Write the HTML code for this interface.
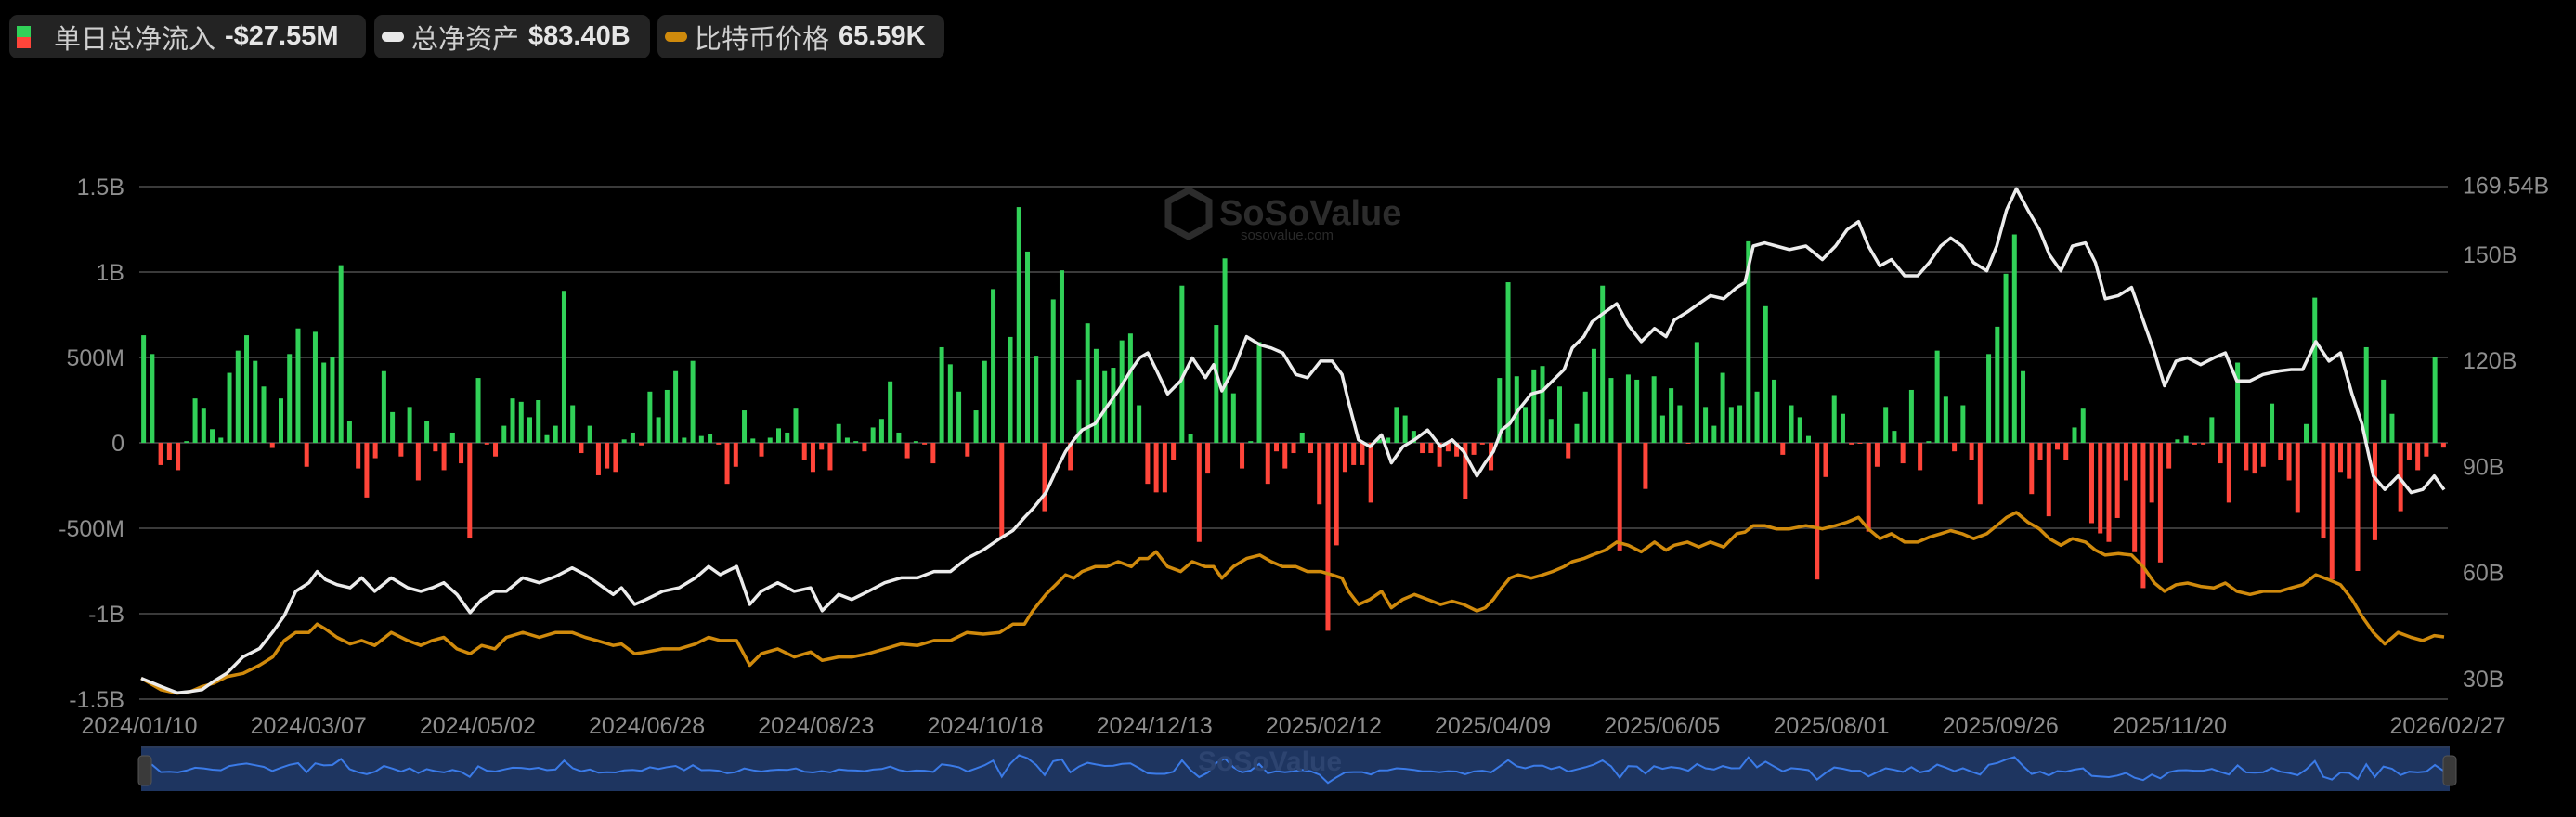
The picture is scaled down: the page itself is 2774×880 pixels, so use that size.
<!DOCTYPE html>
<html><head><meta charset="utf-8">
<style>
html,body{margin:0;padding:0;background:#000;width:2774px;height:880px;overflow:hidden}
.leg{position:absolute;top:16px;height:47px;background:#232323;border-radius:9px;display:flex;align-items:center;color:#d0d0d0;font-family:"Liberation Sans","Noto Sans CJK SC",sans-serif;font-size:29px;white-space:nowrap}
.leg b{font-weight:bold;margin-left:10px;color:#e6e6e6}
svg{position:absolute;left:0;top:0}
</style></head><body>
<div class="leg" style="left:10px;width:384px">
  <span style="display:inline-block;margin-left:8px;width:15px;height:24px;background:linear-gradient(#31d158 50%,#ff453a 50%)"></span>
  <span style="margin-left:25px">单日总净流入</span><b>-$27.55M</b>
</div>
<div class="leg" style="left:403px;width:297px">
  <span style="display:inline-block;margin-left:8px;width:24px;height:11px;border-radius:6px;background:#e8e8e8"></span>
  <span style="margin-left:8px">总净资产</span><b>$83.40B</b>
</div>
<div class="leg" style="left:708px;width:309px">
  <span style="display:inline-block;margin-left:8px;width:24px;height:11px;border-radius:6px;background:#cf8a0c"></span>
  <span style="margin-left:8px">比特币价格</span><b>65.59K</b>
</div>
<svg id="chart" width="2774" height="880" font-family="Liberation Sans, sans-serif"></svg>
<script>
const flows = [630,520,-130,-100,-160,10,260,200,80,30,410,540,630,480,330,-30,260,520,670,-140,650,470,500,1040,130,-150,-320,-90,420,180,-80,210,-220,130,-50,-160,60,-120,
-560,380,-10,-80,100,260,240,150,250,45,100,890,220,-60,100,-190,-150,-170,20,60,-15,300,150,310,420,30,480,40,50,-10,-240,-140,190,25,-80,30,85,60,200,-100,-170,-40,-160,110,30,10,-50,90,
140,360,60,-90,10,-10,-120,560,460,300,-80,190,480,900,-550,620,1380,1120,510,-400,840,1010,-160,370,700,550,420,440,600,640,220,-240,-290,-290,-100,920,50,-580,-180,690,1080,290,-150,10,590,-240,-50,-150,-60,60,-60,-360,-1100,-600,-170,-130,-130,-350,20,30,210,160,70,-60,-60,-140,-50,-80,-330,-70,-10,-160,380,940,390,210,430,450,140,330,-90,110,300,550,920,380,-630,400,
370,-270,390,160,320,220,-5,590,210,100,410,210,220,1180,300,800,370,-70,220,150,40,-800,-200,280,170,-10,-5,-520,-140,210,70,-120,310,-160,10,540,270,-50,220,-100,-360,520,680,990,1220,420,-300,-100,-430,-40,-100,90,200,-470,-530,-580,-440,-220,-640,-850,-350,-700,-150,20,40,-10,-10,150,-120,-350,470,-160,-180,-140,230,-100,-220,-410,110,850,-560,-800,-170,-210,-750,560,-570,370,170,-400,-100,-160,-80,500,-28];
// sample time offsets (out of dayCount) for the line series
const dayCount = 1400;
const sampleDay = [0,12,22,30,37,44,52,62,72,80,87,94,102,107,112,119,127,134,142,152,162,170,177,184,192,200,207,215,222,232,242,252,262,270,277,287,292,300,307,317,327,337,345,352,362,370,377,387,397,407,414,424,432,442,452,462,472,482,492,502,512,522,530,537,542,550,557,562,567,572,580,587,594,602,607,612,617,624,632,639,647,652,657,664,672,680,687,694,702,709,717,724,730,734,740,747,754,760,767,774,782,790,797,804,812,817,822,827,832,837,845,852,858,865,870,877,882,890,897,904,912,920,927,932,940,947,954,962,970,975,980,987,994,1002,1012,1022,1030,1037,1044,1050,1057,1064,1072,1080,1087,1094,1100,1107,1114,1122,1128,1134,1140,1147,1154,1160,1167,1174,1182,1188,1194,1202,1210,1217,1224,1230,1237,1244,1252,1260,1267,1274,1282,1290,1300,1307,1314,1322,1330,1337,1344,1350,1357,1364,1372,1380,1387,1394,1400];
const assets = [30.1,27.8,26.0,26.4,26.9,29.2,31.5,36.2,38.5,43.2,47.8,54.7,57.1,60.3,58.0,56.6,55.7,58.5,54.7,58.5,55.7,54.7,55.7,57.1,53.8,48.7,52.4,54.7,54.7,58.5,57.1,58.9,61.3,59.4,57.1,53.8,55.7,51.0,52.4,54.7,55.7,58.5,61.7,59.4,61.7,51.0,54.7,57.1,54.7,55.7,49.2,53.8,52.4,54.7,57.1,58.5,58.5,60.3,60.3,64.0,66.4,69.6,71.9,75.6,78.0,82.6,89.6,94.2,97.5,100.3,102.1,106.8,111.4,117.4,120.7,122.1,117.4,110.5,114.2,120.7,115.1,118.8,111.4,117.4,126.7,124.4,123.5,122.1,116.0,115.1,119.8,119.8,116.0,108.2,97.5,95.6,98.9,91.0,95.6,97.5,100.3,95.6,97.5,94.2,87.3,91.0,94.2,100.3,102.1,105.8,110.5,111.4,114.2,117.4,123.5,126.7,130.9,133.7,136.0,130.0,125.3,129.0,126.7,131.4,133.7,136.0,138.3,137.4,140.6,142.0,152.3,153.2,152.3,151.3,152.3,148.5,152.3,156.9,159.2,152.3,146.7,148.5,143.9,143.9,147.6,152.3,154.6,152.3,147.6,145.3,152.3,162.5,168.5,162.5,156.9,149.9,145.3,152.3,153.2,147.6,137.4,138.3,140.6,131.4,122.1,112.8,119.8,120.7,118.8,120.7,122.1,114.2,114.2,116.0,117.0,117.4,117.4,125.3,119.8,122.1,110.5,102.1,87.3,83.5,87.3,82.6,83.5,87.3,83.4];
const btc = [46.2,40.8,39.2,40.0,42.3,43.8,46.9,48.5,52.3,56.2,63.9,67.7,67.7,71.6,69.3,65.4,62.3,63.9,61.6,67.7,63.9,61.6,63.9,65.4,60.0,57.7,61.6,60.0,65.4,67.7,65.4,67.7,67.7,65.4,63.9,61.6,62.3,57.7,58.5,60.0,60.0,62.3,65.4,63.9,63.9,52.3,57.7,60.0,56.2,58.5,54.6,56.2,56.2,57.7,60.0,62.3,61.6,63.9,63.9,67.7,66.9,67.7,71.6,71.6,77.8,85.5,90.9,94.7,93.2,96.3,98.6,98.6,100.9,98.6,102.4,102.4,105.5,98.6,96.3,100.9,98.6,98.6,93.2,98.6,102.4,104.0,100.9,98.6,98.6,96.3,96.3,94.7,93.2,87.0,80.8,83.2,87.0,79.3,83.2,85.5,83.2,80.8,82.4,80.8,77.8,79.3,83.2,88.6,93.2,94.7,93.2,94.7,96.3,98.6,100.9,102.4,104.0,106.3,110.1,108.6,105.5,110.1,106.3,108.6,110.1,107.8,110.1,107.8,114.0,114.8,117.8,117.8,116.3,116.3,117.8,116.3,117.8,119.4,121.7,116.3,111.7,114.0,110.1,110.1,112.4,114.0,115.5,114.0,111.7,114.0,117.8,121.7,124.0,119.4,116.3,111.7,108.6,111.7,110.1,106.3,104.0,104.7,104.0,98.6,90.9,87.0,90.1,90.9,89.3,88.6,90.9,87.0,85.5,87.0,87.0,88.6,90.1,94.7,92.4,90.1,83.2,75.4,67.7,62.3,67.7,65.4,63.9,66.2,65.6];
const leftTicks = [1500,1000,500,0,-500,-1000,-1500];
const leftTickLabels = ["1.5B","1B","500M","0","-500M","-1B","-1.5B"];
const rightTicks = [169.54,150,120,90,60,30];
const rightTickLabels = ["169.54B","150B","120B","90B","60B","30B"];
const dateLabels = ["2024/01/10","2024/03/07","2024/05/02","2024/06/28","2024/08/23","2024/10/18","2024/12/13","2025/02/12","2025/04/09","2025/06/05","2025/08/01","2025/09/26","2025/11/20"];
const lastDate = "2026/02/27";

const NS="http://www.w3.org/2000/svg";
const svg=document.getElementById('chart');
const X0=150,X1=2636;
function el(tag,attrs,parent){const e=document.createElementNS(NS,tag);for(const k in attrs)e.setAttribute(k,attrs[k]);(parent||svg).appendChild(e);return e;}
const yL=v=>477-v*0.184;
const yR=v=>731-(v-30)*3.81;
const yP=v=>731-(v-46)*2.295;
const xCat=(i,n)=>X0+(i+0.5)*(X1-X0)/n;
const xDay=d=>X0+2+d/dayCount*(X1-X0-6);

const wm=el('g',{});


el('path',{d:'M1280 205 l22 12 v26 l-22 12 l-22 -12 v-26 z',fill:'none',stroke:'#2c2c2c','stroke-width':7},wm);
el('text',{x:1313,y:242,fill:'#2c2c2c','font-size':38,'font-weight':'bold'},wm).textContent='SoSoValue';
el('text',{x:1336,y:258,fill:'#2a2a2a','font-size':15},wm).textContent='sosovalue.com';

leftTicks.forEach((v,i)=>{
  const g=el('line',{x1:X0,x2:X1,y1:yL(v),y2:yL(v),stroke:'#3a3a3a','stroke-width':2});
  
  
  const t=el('text',{x:134,y:yL(v)+9,fill:'#8e8e8e','font-size':25,'text-anchor':'end'});
  
  
  t.textContent=leftTickLabels[i];
});
rightTicks.forEach((v,i)=>{
  const t=el('text',{x:2652,y:yR(v)+9,fill:'#8e8e8e','font-size':25});
  
  
  t.textContent=rightTickLabels[i];
});
const step=182.2;
dateLabels.forEach((d,i)=>{
  const t=el('text',{x:X0+i*step,y:790,fill:'#8e8e8e','font-size':25,'text-anchor':'middle'});
  
  
  t.textContent=d;
});
const lt=el('text',{x:X1,y:790,fill:'#8e8e8e','font-size':25,'text-anchor':'middle'});


lt.textContent=lastDate;

const n=flows.length;
flows.forEach((v,i)=>{
  const x=xCat(i,n),y0=yL(0),y1=yL(v);
  const b=el('rect',{x:x-2.5,width:5,y:Math.min(y0,y1),height:Math.max(1,Math.abs(y1-y0)),fill:v>=0?'#31d158':'#ff453a'});
  
  
});
function line(arr,yf,color,name){
  const d=arr.map((v,i)=>(i?'L':'M')+xDay(sampleDay[Math.min(i,sampleDay.length-1)]).toFixed(1)+' '+yf(v).toFixed(1)).join(' ');
  const p=el('path',{d,fill:'none',stroke:color,'stroke-width':3.5,'stroke-linejoin':'round'});
  
  
}
line(btc,yP,'#d08a0c','btc-price-line');
line(assets,yR,'#ececec','total-net-assets-line');

const nav=el('g',{});


el('rect',{x:X0+2,y:804,width:X1-X0,height:48,fill:'#1e3560'},nav);
el('rect',{x:X0+2,y:804,width:X1-X0,height:2,fill:'#2a3a5a'},nav);
const nd=flows.map((v,i)=>(i?'L':'M')+xCat(i,n).toFixed(1)+' '+(830-v*0.012).toFixed(1)).join(' ');
el('path',{d:nd,fill:'none',stroke:'#3b7be8','stroke-width':2},nav);
el('text',{x:1290,y:830,fill:'#2d4470','font-size':30,'font-weight':'bold'},nav).textContent='SoSoValue';
[X0+6,X1+2].forEach(x=>{
  const h=el('rect',{x:x-7,y:814,width:14,height:32,rx:4,fill:'#3a3a3a',stroke:'#555','stroke-width':1});
  
  
});
</script>
</body></html>
